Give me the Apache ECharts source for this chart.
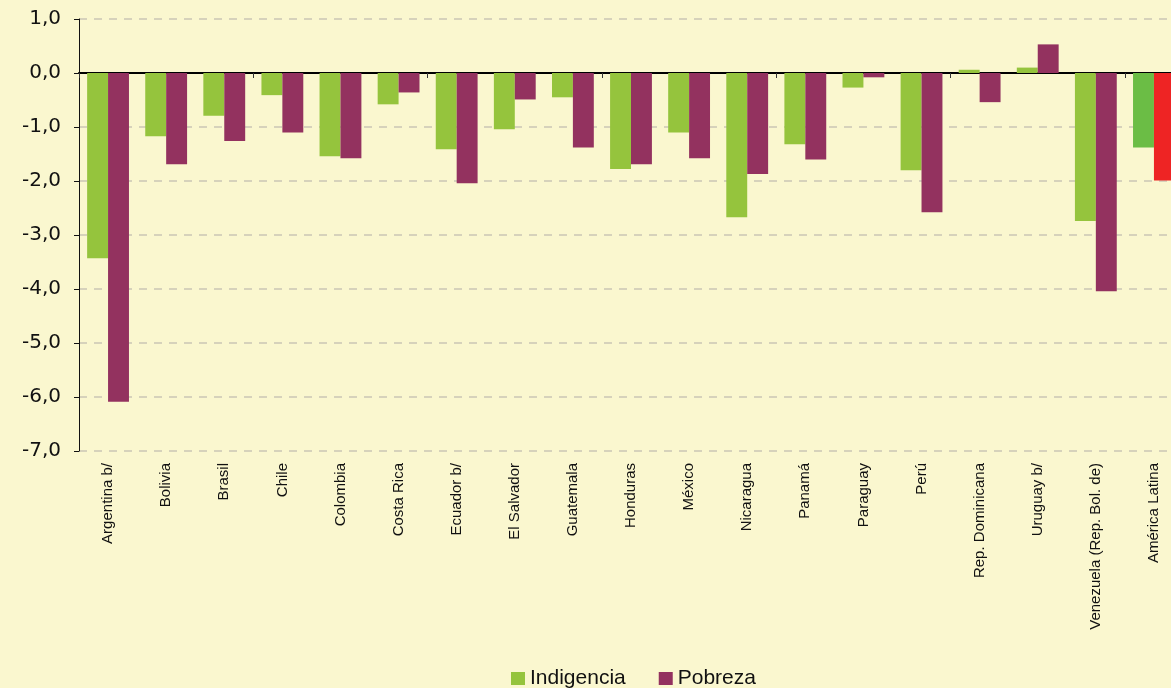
<!DOCTYPE html>
<html>
<head>
<meta charset="utf-8">
<script src="https://cdn.jsdelivr.net/npm/echarts@6/dist/echarts.min.js"></script>
<style>
  html, body { margin: 0; padding: 0; background: #faf7cf; overflow: hidden; }
  /* el gráfico original sigue un poco más allá del borde derecho */
  #chart { width: 1187px; height: 688px; }
</style>
</head>
<body>
<div id="chart"></div>
<script>
// países (eje x)
const paises = [
  'Argentina b/', 'Bolivia', 'Brasil', 'Chile', 'Colombia', 'Costa Rica',
  'Ecuador b/', 'El Salvador', 'Guatemala', 'Honduras', 'México', 'Nicaragua',
  'Panamá', 'Paraguay', 'Perú', 'Rep. Dominicana', 'Uruguay b/',
  'Venezuela (Rep. Bol. de)', 'América Latina'
]

// variación anual (puntos porcentuales)
const indigencia = [
  -3.43, -1.17, -0.79, -0.41, -1.54, -0.58, -1.41, -1.04, -0.45, -1.78,
  -1.10, -2.67, -1.32, -0.27, -1.80, 0.06, 0.10, -2.74, -1.38
]
const pobreza = [
  -6.09, -1.69, -1.26, -1.10, -1.58, -0.36, -2.04, -0.49, -1.38, -1.69,
  -1.58, -1.87, -1.60, -0.08, -2.58, -0.54, 0.53, -4.04, -1.99
]

const colorIndig = '#95c43d'
const colorPobre = '#93325f'
const colorIndigAL = '#6bbd45'
const colorPobreAL = '#ee2424'

const chart = echarts.init(document.getElementById('chart'))

// el último país (América Latina) lleva colores propios
const marcarTotal = (arr, color) =>
  arr.map((v, i) => i === arr.length - 1 ? { value: v, itemStyle: { color } } : v)

const option = {
  backgroundColor: '#faf7cf',
  animation: false,
  textStyle: { fontFamily: 'Liberation Sans' },
  grid: { left: 79, right: 4, top: 19, bottom: 237 },
  legend: {
    left: 511,
    top: 668,
    padding: 0,
    itemWidth: 14,
    itemHeight: 13,
    itemGap: 33,
    icon: 'rect',
    textStyle: { fontSize: 21, color: '#111' },
    data: ['Indigencia', 'Pobreza']
  },
  xAxis: [
    {
      type: 'category',
      data: paises,
      axisLine: { show: false, onZero: false },
      axisTick: { show: false },
      axisLabel: {
        rotate: 90,
        interval: 0,
        margin: 12,
        fontSize: 15,
        color: '#111'
      }
    },
    {
      type: 'category',
      data: paises,
      position: 'bottom',
      axisLine: { show: true, onZero: true, lineStyle: { color: '#000', width: 2 } },
      axisTick: { show: true, length: 5, lineStyle: { color: '#333', width: 1 } },
      axisLabel: { show: false }
    }
  ],
  yAxis: {
    type: 'value',
    min: -7,
    max: 1,
    interval: 1,
    axisLine: { show: true, lineStyle: { color: '#111', width: 1 } },
    axisTick: { show: true, length: 5, lineStyle: { color: '#111' } },
    axisLabel: {
      fontSize: 20,
      fontFamily: 'DejaVu Sans',
      color: '#111',
      margin: 18,
      formatter: v => v.toFixed(1).replace('.', ',')
    },
    splitLine: {
      show: true,
      lineStyle: { color: '#d6d2bb', type: [8, 7], width: 2 }
    }
  },
  series: [
    {
      name: 'Indigencia',
      type: 'bar',
      xAxisIndex: 0,
      data: marcarTotal(indigencia, colorIndigAL),
      itemStyle: { color: colorIndig },
      barGap: '0%',
      barCategoryGap: '28%'
    },
    {
      name: 'Pobreza',
      type: 'bar',
      xAxisIndex: 0,
      data: marcarTotal(pobreza, colorPobreAL),
      itemStyle: { color: colorPobre },
      barGap: '0%',
      barCategoryGap: '28%'
    }
  ]
}

chart.setOption(option)
</script>
</body>
</html>
